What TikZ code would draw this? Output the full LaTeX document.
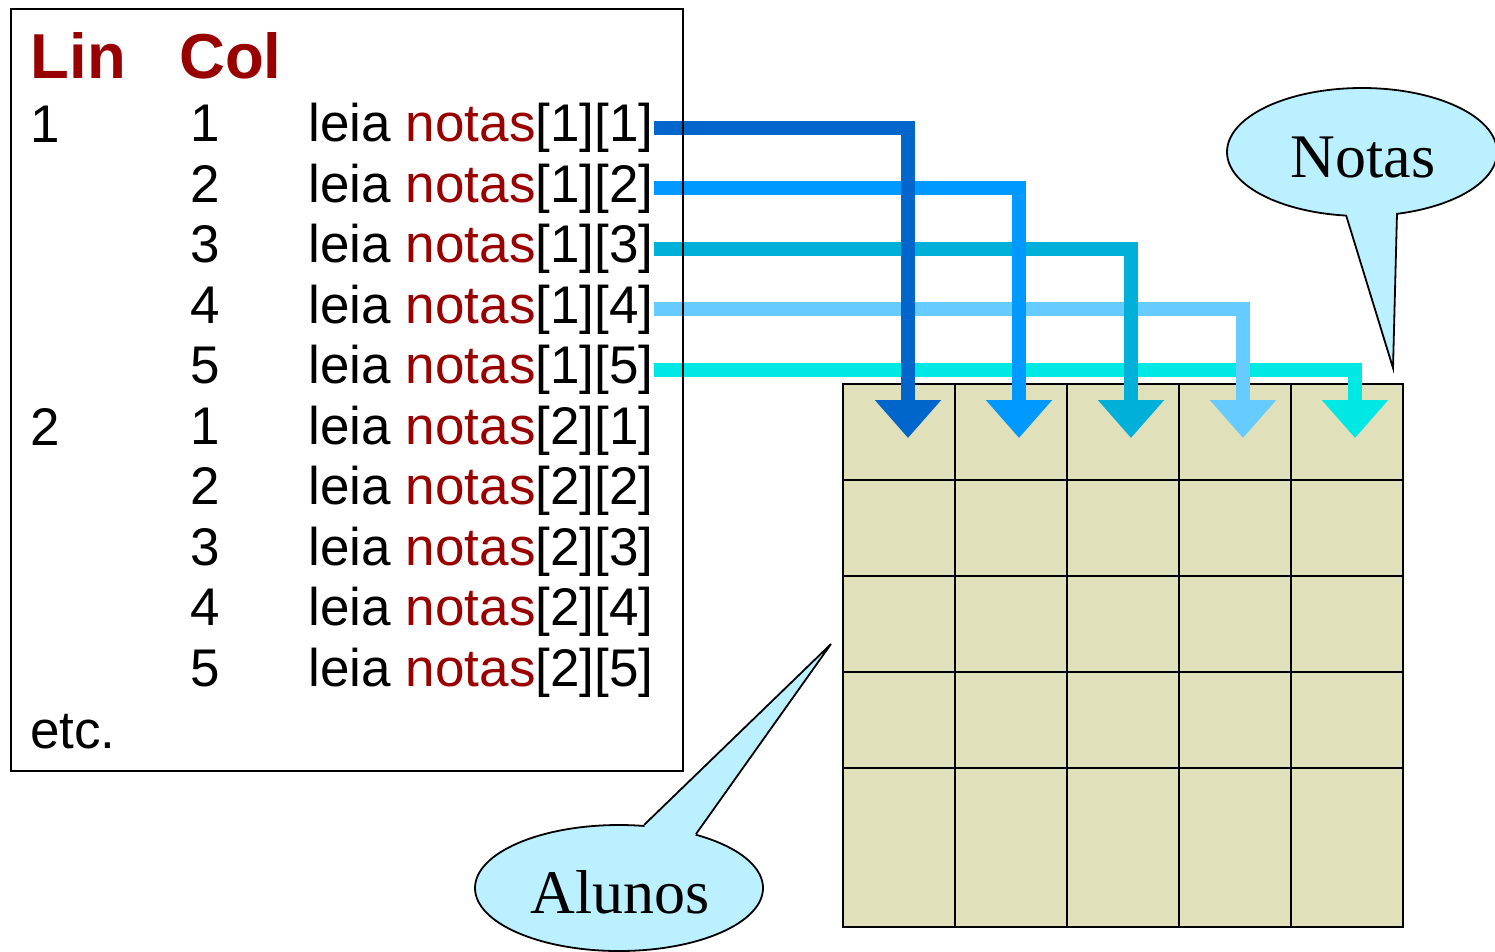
\documentclass[tikz,border=0pt]{standalone}
\usepackage{fontspec}
\setmainfont{Liberation Sans}
\newfontfamily\serifface{Liberation Serif}
\usetikzlibrary{arrows.meta,shapes.geometric}
\definecolor{dred}{RGB}{153,0,0}
\definecolor{gridfill}{RGB}{224,224,186}
\definecolor{bubblefill}{RGB}{186,240,255}
\definecolor{ca}{RGB}{0,102,204}
\definecolor{cb}{RGB}{0,153,255}
\definecolor{cc}{RGB}{0,176,216}
\definecolor{cd}{RGB}{102,204,255}
\definecolor{ce}{RGB}{0,232,228}
\tikzset{
  txt/.style={anchor=base west, inner sep=0pt, font=\fontsize{53}{60}\selectfont},
  head/.style={anchor=base west, inner sep=0pt, font=\fontsize{63.5}{70}\selectfont\bfseries, text=dred},
  arr/.style={line width=14pt, line join=miter, -{Triangle[width=64pt,length=38pt]}},
  bubble/.style={ellipse, draw=black, line width=1.8pt, fill=bubblefill, inner sep=0pt},
  btext/.style={anchor=base, inner sep=0pt, font=\serifface\fontsize{62}{70}\selectfont},
  gridline/.style={draw=black, line width=2pt},
}
\begin{document}
\begin{tikzpicture}[x=1pt,y=-1pt]
\useasboundingbox (0,0) rectangle (1495,951);

% grid (table of notas)
\fill[gridfill] (843,384) rectangle (1403,927);
\foreach \xx in {955,1067,1179,1291} \draw[gridline] (\xx,384) -- (\xx,927);
\foreach \yy in {480,576,672,768} \draw[gridline] (843,\yy) -- (1403,\yy);
\draw[gridline] (843,384) rectangle (1403,927);

% text
\node[head] (lin) at (30.5,78) {Lin};
\node[head] (col) at (179,78) {Col};
\node[txt] (r1) at (30,142) {1};
\node[txt] (r2) at (30,445.3) {2};
\node[txt] (etc) at (30,748.7) {etc.};
\foreach \i/\r/\c in {1/1/1,2/1/2,3/1/3,4/1/4,5/1/5,6/2/1,7/2/2,8/2/3,9/2/4,10/2/5}{
  \pgfmathsetmacro{\yb}{141.5+(\i-1)*60.5}
  \node[txt] (c\i) at (190,\yb) {\c};
  \node[txt] (l\i) at (308.5,\yb) {leia \textcolor{dred}{notas}[\r][\c]};
}

% arrow targets
\coordinate (t1) at (908,438);
\coordinate (t2) at (1019,438);
\coordinate (t3) at (1131,438);
\coordinate (t4) at (1243,438);
\coordinate (t5) at (1355,438);

\draw[arr, ce] (l5.east) -| (t5);
\draw[arr, cd] (l4.east) -| (t4);
\draw[arr, cc] (l3.east) -| (t3);
\draw[arr, cb] (l2.east) -| (t2);
\draw[arr, ca] (l1.east) -| (t1);

% box
\draw[line width=2.5pt] (11,9) rectangle (683,771);

% Notas callout
\node[bubble, minimum width=270pt, minimum height=128pt] (nb) at (1362,152) {};
\fill[bubblefill] (1346,215) -- (1393,368) -- (1397,213) -- (1395,198) -- (1348,198) -- cycle;
\draw[line width=1.8pt, line join=miter] (1346,215) -- (1393,368) -- (1397,213);
\node[btext] (notastxt) at (1363,177) {Notas};

% Alunos callout
\node[bubble, minimum width=288pt, minimum height=126pt] (ab) at (619,888) {};
\fill[bubblefill] (644,825) -- (831,644) -- (696,834) -- (690,845) -- (650,840) -- cycle;
\draw[line width=1.8pt, line join=miter] (644,825) -- (831,644) -- (696,834);
\node[btext] (alunostxt) at (620,913) {Alunos};
\end{tikzpicture}
\end{document}
